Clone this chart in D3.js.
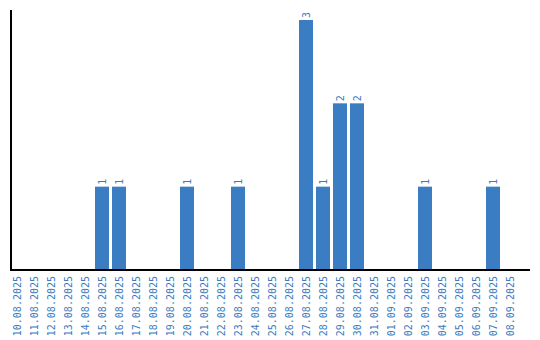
<!DOCTYPE html>
<html><head><meta charset="utf-8">
<script src="https://cdn.jsdelivr.net/npm/d3@7"></script>
<style>html,body{margin:0;padding:0;background:#fff;}svg{display:block;}</style>
</head><body>
<script>
const dates = ["10.08.2025","11.08.2025","12.08.2025","13.08.2025","14.08.2025","15.08.2025","16.08.2025","17.08.2025","18.08.2025","19.08.2025","20.08.2025","21.08.2025","22.08.2025","23.08.2025","24.08.2025","25.08.2025","26.08.2025","27.08.2025","28.08.2025","29.08.2025","30.08.2025","31.08.2025","01.09.2025","02.09.2025","03.09.2025","04.09.2025","05.09.2025","06.09.2025","07.09.2025","08.09.2025"];
const counts = [0,0,0,0,0,1,1,0,0,0,1,0,0,1,0,0,0,3,1,2,2,0,0,0,1,0,0,0,1,0];

const W = 540, H = 340;
const barColor = "#3b7dc3", textColor = "#3a7bbf";
const svg = d3.select("body").append("svg").attr("width", W).attr("height", H);

const x = d3.scaleBand().domain(dates).range([8.5, 518.5]).paddingInner(3/17).paddingOuter(1.5/17);
const y = d3.scaleLinear().domain([0, 3]).range([270, 20]);

const data = dates.map((d, i) => ({d, v: counts[i]}));

svg.selectAll("rect.bar").data(data.filter(e => e.v > 0)).join("rect")
  .attr("class", "bar")
  .attr("x", e => x(e.d)).attr("width", x.bandwidth())
  .attr("y", e => y(e.v)).attr("height", e => y(0) - y(e.v))
  .attr("fill", barColor);

svg.selectAll("text.val").data(data.filter(e => e.v > 0)).join("text")
  .attr("class", "val")
  .attr("transform", e => `translate(${x(e.d) + x.bandwidth()/2 + 3.5},${y(e.v) - 2}) rotate(-90)`)
  .attr("font-family", "DejaVu Sans Mono")
  .attr("font-size", 10)
  .attr("fill", textColor)
  .text(e => e.v);

// axes lines
svg.append("line").attr("x1", 11).attr("x2", 11).attr("y1", 10).attr("y2", 271)
  .attr("stroke", "#000").attr("stroke-width", 2);
svg.append("line").attr("x1", 10).attr("x2", 530).attr("y1", 270).attr("y2", 270)
  .attr("stroke", "#000").attr("stroke-width", 2);

svg.selectAll("text.xl").data(dates).join("text")
  .attr("class", "xl")
  .attr("transform", d => `translate(${x(d) + x.bandwidth()/2 + 3.5},276) rotate(-90)`)
  .attr("text-anchor", "end")
  .attr("font-family", "DejaVu Sans Mono")
  .attr("font-size", 10)
  .attr("fill", textColor)
  .text(d => d);
</script>
</body></html>
